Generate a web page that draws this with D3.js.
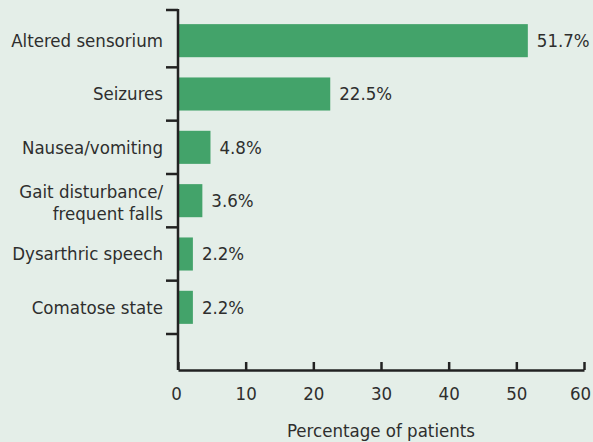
<!DOCTYPE html>
<html>
<head>
<meta charset="utf-8">
<script src="https://cdn.jsdelivr.net/npm/d3@7"></script>
<style>
    html, body { margin: 0; padding: 0; background: #e4eee8; }
    svg { display: block; }
    text { font-family: "DejaVu Sans Condensed", "DejaVu Sans", sans-serif; fill: #2e2e2e; }
</style>
</head>
<body>
<svg id="chart"></svg>
<script>
(function () {

    // Data
    const categories = [
        ["Altered sensorium"],
        ["Seizures"],
        ["Nausea/vomiting"],
        ["Gait disturbance/", "frequent falls"],
        ["Dysarthric speech"],
        ["Comatose state"]
    ];
    const values = [51.7, 22.5, 4.8, 3.6, 2.2, 2.2];
    const xTicks = [0, 10, 20, 30, 40, 50, 60];
    const xTitle = "Percentage of patients";

    // Size
    const width = 593,
        height = 442;

    const svg = d3.select("#chart")
        .attr("width", width)
        .attr("height", height);

    const keys = categories.map((d) => d.join(" "));

    // Scales
    const x = d3.scaleLinear()
        .domain([0, 60])
        .range([178, 584]);

    const y = d3.scaleBand()
        .domain(keys)
        .range([14, 334])
        .padding(0);

    const axisTop = 10,
        axisBottom = 370,
        barFrac = 0.62;

    // Bars
    svg.append("g")
        .selectAll("rect")
        .data(values)
        .enter().append("rect")
        .attr("x", x(0) + 1)
        .attr("y", (d, i) => y(keys[i]) + y.bandwidth() * (1 - barFrac) / 2)
        .attr("width", (d) => x(d) - x(0) - 1)
        .attr("height", y.bandwidth() * barFrac)
        .attr("fill", "#43a36a");

    // Value labels
    svg.append("g")
        .selectAll("text")
        .data(values)
        .enter().append("text")
        .attr("x", (d) => x(d) + 9)
        .attr("y", (d, i) => y(keys[i]) + y.bandwidth() / 2)
        .attr("dy", ".35em")
        .style("font-size", "18.5px")
        .text((d) => d.toFixed(1) + "%");

    // X axis
    const xAxis = svg.append("g")
        .attr("transform", "translate(0," + axisBottom + ")")
        .call(d3.axisBottom(x)
            .tickValues(xTicks)
            .tickSize(-8)
            .tickSizeOuter(0));

    xAxis.select(".domain")
        .attr("stroke", "#222")
        .attr("stroke-width", 2.5);
    xAxis.selectAll(".tick line")
        .attr("stroke", "#222")
        .attr("stroke-width", 2.5);
    xAxis.selectAll(".tick text")
        .attr("y", 30)
        .attr("dy", 0)
        .attr("x", (d, i) => i === 0 ? -2 : (i === xTicks.length - 1 ? -4 : 0))
        .attr("fill", "#2e2e2e")
        .style("font-size", "18.5px")
        .style("font-family", "\"DejaVu Sans Condensed\", \"DejaVu Sans\", sans-serif");

    // X title
    svg.append("text")
        .attr("x", (x.range()[0] + x.range()[1]) / 2)
        .attr("y", 437)
        .style("text-anchor", "middle")
        .style("font-size", "18.5px")
        .text(xTitle);

    // Y axis line and ticks at band edges
    const yAxis = svg.append("g");
    yAxis.append("line")
        .attr("x1", x(0)).attr("x2", x(0))
        .attr("y1", axisTop - 1).attr("y2", axisBottom)
        .attr("stroke", "#222")
        .attr("stroke-width", 2.5);

    const tickYs = [axisTop].concat(keys.map((k) => y(k) + y.bandwidth()));
    yAxis.selectAll(".ytick")
        .data(tickYs)
        .enter().append("line")
        .attr("class", "ytick")
        .attr("x1", x(0) - 12).attr("x2", x(0))
        .attr("y1", (d) => d).attr("y2", (d) => d)
        .attr("stroke", "#222")
        .attr("stroke-width", 2.5);

    // Category labels
    const labels = svg.append("g")
        .selectAll("text")
        .data(categories)
        .enter().append("text")
        .attr("x", x(0) - 15)
        .attr("y", (d, i) => y(keys[i]) + y.bandwidth() / 2)
        .style("text-anchor", "end")
        .style("font-size", "18.5px");

    labels.selectAll("tspan")
        .data((d) => d.map((line, j) => ({ line: line, j: j, n: d.length })))
        .enter().append("tspan")
        .attr("x", x(0) - 15)
        .attr("dy", (d) => d.j === 0 ? (0.35 - (d.n - 1) * 0.5) + "em" : "1.2em")
        .text((d) => d.line);

})();
</script>
</body>
</html>
